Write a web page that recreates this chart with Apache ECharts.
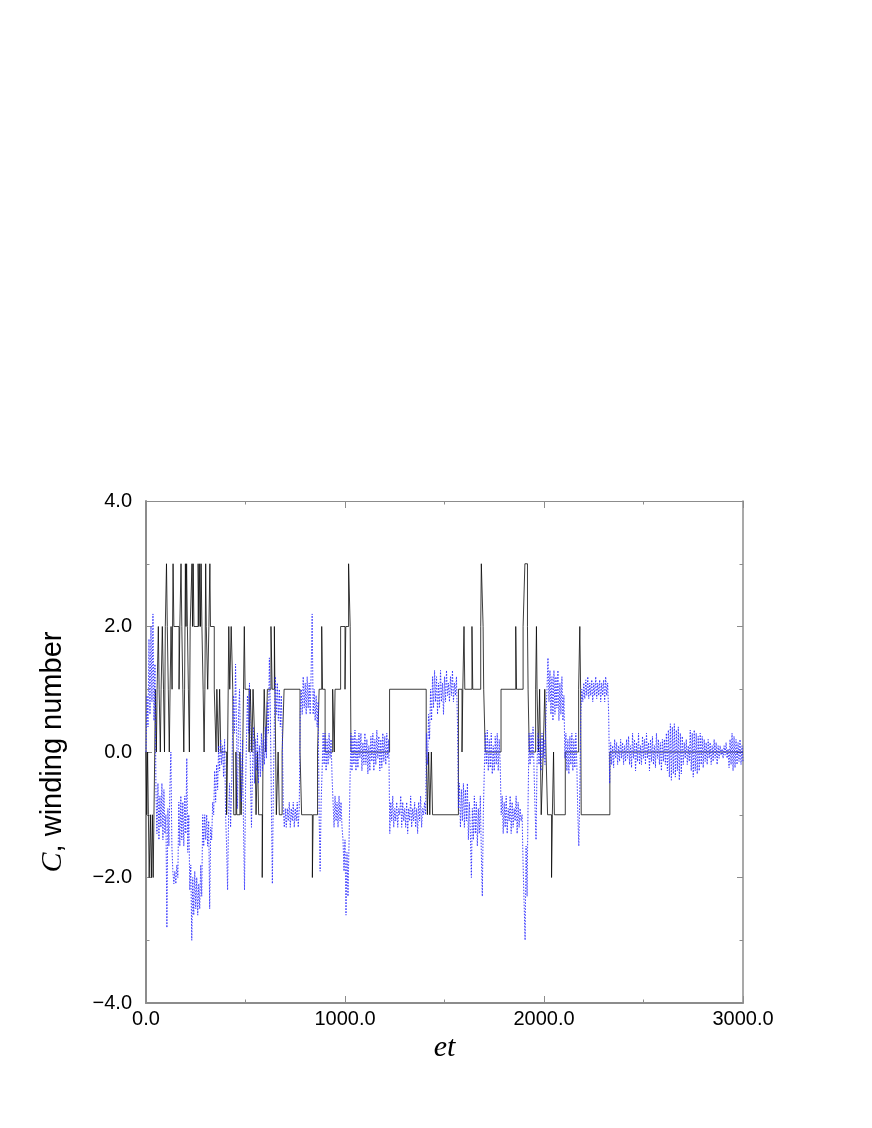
<!DOCTYPE html>
<html>
<head>
<meta charset="utf-8">
<script src="https://cdn.jsdelivr.net/npm/echarts@6/dist/echarts.min.js"></script>
<style>html,body{margin:0;padding:0;background:#fff}#c{width:872px;height:1128px}</style>
</head>
<body>
<div id="c"></div>
<script>
// Axis ticks
var xTicks = [0, 1000, 2000, 3000];
var yTicks = [-4, -2, 0, 2, 4];

// Winding number (step series): change times and values
var stepT = [0,4,8,12,16,22,27,32,36,40,44,47,52,56,62,66,72,76,82,88,93,97,103,107,112,117,121,126,131,136,140,166,170,176,180,185,190,194,198,201,204,208,213,218,222,231,234,237,241,243,262,266,270,274,277,281,287,292,296,300,303,310,316,321,324,343,352,356,364,370,376,405,410,416,421,428,436,441,452,456,472,478,486,490,494,498,518,524,532,538,548,553,560,566,584,588,594,602,610,628,634,645,648,655,664,670,684,694,774,782,836,840,862,870,883,887,900,938,946,950,978,1000,1004,1018,1026,1030,1224,1408,1414,1420,1426,1434,1440,1570,1588,1592,1598,1602,1638,1642,1682,1685,1694,1697,1705,1784,1858,1862,1895,1904,1917,1920,1926,1958,1962,1965,1972,1978,1986,1996,2004,2010,2018,2038,2042,2048,2052,2107,2174,2180,2184,2187,2331,3000];
var stepV = [0,-1,0,-1,-2,-1,-2,-1,-2,-1,0,1,0,1,2,1,0,1,2,1,0,2,3,2,1,0,1,2,1,3,2,1,2,3,2,1,0,1,3,2,3,2,1,0,2,3,2,3,2,2,3,2,3,2,3,2,1,0,1,3,2,1,2,3,2,1,0,1,0,1,0,-1,0,2,1,2,1,-1,0,-1,0,-1,0,1,2,1,0,1,0,1,0,-1,0,-1,-2,0,1,0,1,2,1,2,1,-1,0,-1,0,1,0,-1,-2,-1,0,1,2,1,0,1,0,1,2,1,2,3,2,0,1,0,-1,0,-1,0,-1,1,0,1,2,1,2,1,2,3,2,1,0,1,2,1,2,3,2,1,0,1,2,1,0,1,-1,0,1,0,-1,-2,-1,0,-1,0,1,2,1,-1,0,0];

// C (dotted series), sampled every 5 time units from et = 0
var blueStep = 5;
var blueV = [
 0.0, 0.9, 0.4, 1.8, 0.6, 2.0, 0.8, 2.2, 0.5, 1.4, -0.6, -1.3, -0.5, -1.4, -0.7, -1.2, -0.5, -1.4, -0.6, -1.3,
 -1.0, -2.8, -0.9, -1.5, -0.6, 0.0, -1.5, -1.9, -2.1, -1.9, -2.1, -1.8, -2.0, -0.8, -1.5, -0.7, -1.4, -0.8, -1.5, -0.7,
 -1.3, -0.1, -1.6, -1.0, -2.2, -1.8, -3.0, -2.0, -2.6, -1.9, -2.5, -2.0, -2.6, -2.1, -2.5, -1.8, -2.3, -1.0, -1.5, -1.0,
 -1.4, -1.0, -1.5, -1.1, -2.5, -1.2, -1.4, -0.8, -1.0, -0.3, -0.8, -0.2, -0.6, 0.1, -0.3, 0.2, -0.2, 0.1, -0.4, 0.2,
 -1.0, -1.5, -2.2, -1.0, -0.5, -1.2, -0.6, 0.3, 0.9, 0.3, 1.4, 0.4, -0.9, 0.6, 1.0, 0.0, -0.8, 0.2, -1.2, -2.2,
 -0.6, 0.2, 0.9, 0.3, 1.1, -0.4, -1.2, -0.3, 0.4, -0.5, 0.2, -0.3, 0.3, -0.5, 0.1, -0.4, 0.3, -0.3, 0.2, -0.2,
 0.4, -0.1, 0.8, 0.3, 1.5, 0.6, -0.8, -2.1, -0.6, 0.5, 1.2, 0.6, 1.1, 0.5, 1.0, 0.4, 0.9, 0.3, -0.9, -1.2,
 -0.9, -1.2, -0.9, -1.1, -0.8, -1.2, -0.9, -1.1, -0.8, -1.2, -0.9, -1.1, -0.8, -1.2, -0.9, 0.6, 1.0, 0.6, 1.2, 0.7,
 1.1, 0.6, 1.2, 0.7, 1.1, 0.6, 1.3, 2.2, 0.6, 1.0, 0.5, 0.9, 0.4, 0.8, -1.0, -1.9, -0.8, -0.3, 0.3, -0.2,
 0.3, -0.3, 0.2, -0.2, 0.3, -0.1, 0.2, -0.4, -0.8, -1.2, -0.7, -1.1, -0.8, -1.2, -0.7, -1.1, -0.8, -1.2, -1.4, -1.9,
 -1.4, -2.6, -1.6, -2.3, -1.5, -0.5, 0.3, -0.3, 0.25, -0.2, 0.35, -0.3, 0.2, -0.25, 0.3, -0.1, 0.3, -0.3, 0.15, -0.2,
 0.3, -0.2, 0.2, -0.35, 0.1, -0.3, 0.25, -0.15, 0.3, -0.3, 0.2, -0.2, 0.35, -0.1, 0.25, -0.3, 0.2, -0.25, 0.3, -0.15,
 0.25, -0.2, 0.3, -0.1, 0.2, -1.3, -0.8, -1.1, -0.7, -1.2, -0.9, -1.1, -0.8, -1.2, -0.9, -1.0, -0.7, -1.2, -0.8, -1.1,
 -0.9, -1.2, -0.8, -1.3, -0.9, -1.1, -0.7, -1.2, -0.9, -1.1, -0.8, -1.2, -0.9, -1.3, -0.8, -1.1, -0.7, -1.2, -0.9, -1.0,
 -0.8, -1.0, 0.3, -0.2, 0.6, 0.2, 1.0, 0.5, 1.2, 0.7, 1.3, 0.8, 1.2, 0.6, 1.1, 0.7, 1.3, 0.8, 1.1, 0.6,
 1.2, 0.8, 1.3, 0.9, 1.1, 0.8, 1.2, 0.9, 1.3, 0.8, 1.1, 0.9, 1.2, 0.5, -0.9, -0.5, -1.2, -0.6, -1.1, -0.5,
 -1.2, -0.6, -1.1, -0.5, -1.4, -0.8, -1.3, -2.0, -0.9, -1.4, -0.7, -1.3, -0.8, -1.5, -0.9, -1.3, -0.7, -1.6, -2.3, -1.0,
 -0.3, 0.3, -0.2, 0.35, -0.3, 0.2, -0.25, 0.3, -0.35, 0.1, -0.3, 0.25, -0.2, 0.3, -0.3, 0.2, -0.2, -1.0, -0.7, -1.3,
 -0.8, -1.2, -0.7, -1.3, -0.9, -1.1, -0.7, -1.3, -0.8, -1.2, -0.9, -1.1, -0.7, -1.3, -0.8, -1.2, -0.9, -1.1, -1.0, -1.8,
 -2.4, -3.0, -1.5, -2.3, -0.8, 0.3, -0.2, 0.3, -0.1, 0.4, -0.3, -0.9, -1.4, -0.2, 0.3, -0.2, 0.2, -0.3, 0.3, -0.1,
 0.2, -0.2, 0.6, 1.0, 1.5, 0.8, 1.3, 0.6, 1.2, 0.5, 1.3, 0.6, 1.2, 0.7, 1.3, 0.5, 1.1, 0.6, 1.2, 0.5,
 0.9, -0.1, 0.3, -0.3, 0.2, -0.35, 0.25, -0.2, 0.3, -0.3, 0.2, -0.25, 0.3, -0.2, -1.0, -1.5, -0.6, 0.6, 1.0, 0.8,
 1.1, 0.85, 1.15, 0.9, 1.2, 0.85, 1.1, 0.9, 1.15, 0.8, 1.1, 0.9, 1.2, 0.85, 1.1, 0.9, 1.15, 0.8, 1.1, 0.9,
 1.15, 0.8, 1.2, 0.9, 1.1, 0.6, -0.5, 0.15, -0.2, 0.1, -0.25, 0.2, -0.1, 0.15, -0.2, 0.1, -0.15, 0.2, -0.1, 0.15,
 -0.2, 0.1, -0.15, 0.2, -0.1, 0.25, -0.2, 0.1, -0.25, 0.3, -0.1, 0.2, -0.3, 0.15, -0.15, 0.3, -0.2, 0.1, -0.2, 0.25,
 -0.1, 0.2, -0.2, 0.3, -0.1, 0.15, -0.3, 0.2, -0.15, 0.25, -0.2, 0.1, -0.25, 0.3, -0.1, 0.2, -0.2, 0.15, -0.3, 0.2,
 -0.15, 0.2, -0.2, 0.3, -0.3, 0.35, -0.4, 0.45, -0.45, 0.4, -0.35, 0.45, -0.4, 0.35, -0.3, 0.4, -0.45, 0.3, -0.35, 0.25,
 -0.2, 0.15, -0.1, 0.2, -0.2, 0.1, -0.15, 0.35, -0.3, 0.3, -0.4, 0.35, -0.3, 0.3, -0.35, 0.25, -0.3, 0.3, -0.2, 0.25,
 -0.25, 0.2, -0.15, 0.15, -0.2, 0.2, -0.1, 0.15, -0.2, 0.1, -0.15, 0.2, -0.1, 0.15, -0.2, 0.1, -0.1, 0.1, -0.05, 0.05,
 -0.1, 0.1, -0.05, 0.15, -0.1, 0.05, -0.25, 0.2, -0.2, 0.3, -0.3, 0.25, -0.25, 0.2, -0.2, 0.15, -0.15, 0.2, -0.2, 0.1,
 -0.15
];

var stepData = stepT.map(function (t, i) { return [t, stepV[i]]; });
var blueData = blueV.map(function (v, i) { return [i * blueStep, v]; });

function fmt(v) { return (v < 0 ? '\u2212' : '') + Math.abs(v).toFixed(1); }

var frame = '#8c8c8c';
var baseX = {
  type: 'value', min: xTicks[0], max: xTicks[xTicks.length - 1], interval: xTicks[1] - xTicks[0],
  splitLine: { show: false },
  axisTick: { inside: true, length: 7, lineStyle: { color: frame } },
  minorTick: { show: true, splitNumber: 2, length: 3.5, lineStyle: { color: frame } }
};
var baseY = {
  type: 'value', min: yTicks[0], max: yTicks[yTicks.length - 1], interval: yTicks[1] - yTicks[0],
  splitLine: { show: false },
  axisTick: { inside: true, length: 6, lineStyle: { color: frame } },
  minorTick: { show: true, splitNumber: 2, length: 3.5, lineStyle: { color: frame } }
};

var chart = echarts.init(document.getElementById('c'), null, { renderer: 'canvas' });
chart.setOption({
  animation: false,
  backgroundColor: '#fff',
  grid: { left: 146, top: 501, width: 597, height: 502 },
  xAxis: [
    Object.assign({}, baseX, {
      position: 'bottom',
      axisLine: { show: true, onZero: false, lineStyle: { color: frame, width: 2 } },
      axisLabel: { show: true, margin: 6, color: '#000', fontSize: 20, fontFamily: 'Liberation Sans, Arial, sans-serif', formatter: fmt },
      name: 'et', nameLocation: 'middle', nameGap: 30,
      nameTextStyle: { color: '#000', fontSize: 30, fontStyle: 'italic', fontFamily: 'Liberation Serif, Times New Roman, serif' }
    }),
    Object.assign({}, baseX, {
      position: 'top',
      axisLine: { show: true, onZero: false, lineStyle: { color: frame, width: 1 } },
      axisLabel: { show: false }
    })
  ],
  yAxis: [
    Object.assign({}, baseY, {
      position: 'left',
      axisLine: { show: true, onZero: false, lineStyle: { color: frame, width: 2 } },
      axisLabel: { show: true, margin: 14, color: '#000', fontSize: 20, fontFamily: 'Liberation Sans, Arial, sans-serif', formatter: fmt },
      name: '{i|C}, winding number', nameLocation: 'middle', nameGap: 78,
      nameTextStyle: {
        color: '#000', fontSize: 29, fontFamily: 'Liberation Sans, Arial, sans-serif',
        rich: { i: { fontSize: 30, fontStyle: 'italic', fontFamily: 'Liberation Serif, Times New Roman, serif', color: '#000' } }
      }
    }),
    Object.assign({}, baseY, {
      position: 'right',
      axisLine: { show: true, onZero: false, lineStyle: { color: frame, width: 1.5 } },
      axisLabel: { show: false }
    })
  ],
  series: [
    {
      type: 'line', name: 'winding number', xAxisIndex: 0, yAxisIndex: 0,
      step: 'end', showSymbol: false, symbol: 'none',
      lineStyle: { color: '#000', width: 0.9, opacity: 0.85 },
      data: stepData, z: 2
    },
    {
      type: 'line', name: 'C', xAxisIndex: 0, yAxisIndex: 0,
      showSymbol: false, symbol: 'none',
      lineStyle: { color: '#2a2aff', width: 1, type: [1.5, 1.5], opacity: 0.9 },
      data: blueData, z: 3
    }
  ]
});
</script>
</body>
</html>
